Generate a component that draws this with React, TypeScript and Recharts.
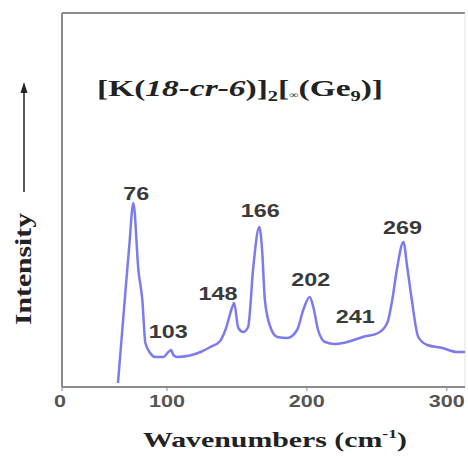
import {
  ComposedChart,
  Line,
  XAxis,
  YAxis,
  ReferenceLine,
} from "recharts";

// Raman spectrum (intensity in arbitrary units)
const WAVENUMBER = [
  65, 70, 73, 76, 79.6, 82.4, 84.6, 88, 91.7, 97.4, 101, 103, 104.6, 107.4,
  124, 131, 138, 142, 146.7, 148, 151, 154.6, 158, 161.7, 166, 168, 170,
  173.9, 178.9, 186, 193, 197.4, 202, 204.6, 208, 213, 220, 226, 240, 251,
  257.4, 261, 264.6, 269, 271.7, 275, 279.6, 286, 297, 307, 313,
];
const INTENSITY = [
  4, 90, 140, 184, 117, 87, 44, 34, 30, 30, 35, 37, 32, 30,
  35, 40, 46, 58, 80, 84, 59, 55, 60, 120, 160, 137, 87,
  60, 50, 49, 57, 77, 90, 80, 57, 45, 43, 44, 50, 54,
  64, 87, 120, 145, 120, 87, 50, 42, 39, 35, 35,
];

const PEAK_WN = [76, 103, 148, 166, 202, 241, 269];
const PEAK_I = [184, 37, 84, 160, 90, 50, 145];

const X_TICKS = [25, 100, 200, 300];
const X_TICK_LABELS = ["0", "100", "200", "300"];

// label nudges (px) so the numbers sit where the original puts them
const LABEL_DX = [3, -3, -16, 1, 1, -9, -1];
const LABEL_DY = [-3, -12, -3, -10, -11, -14, -8];

const spectrum = WAVENUMBER.map((wn, i) => ({ wn, v: INTENSITY[i] }));
const peaks = PEAK_WN.map((wn, i) => ({ wn, v: PEAK_I[i] }));

const W = 468;
const H = 457;
const LINE = "#7b7bf0";
const FRAME = "#8a8a8a";
const SERIF = "'Liberation Serif', 'Times New Roman', serif";
const SANS = "'Liberation Sans', Arial, sans-serif";

// the original picture is stretched sideways, so numbers get a fixed width per digit
function PeakLabel(props: any) {
  const { x, y, index } = props;
  const s = String(PEAK_WN[index]);
  return (
    <text
      x={x + LABEL_DX[index]}
      y={y + LABEL_DY[index]}
      textAnchor="middle"
      fontFamily={SANS}
      fontWeight="bold"
      fontSize={18}
      fill="#3a3a3a"
      textLength={s.length * 13}
      lengthAdjust="spacingAndGlyphs"
    >
      {s}
    </text>
  );
}

function XTick(props: any) {
  const { x, y, payload } = props;
  const s = X_TICK_LABELS[X_TICKS.indexOf(payload.value)] ?? String(payload.value);
  return (
    <text
      x={x - (s === "0" ? 2 : 0)}
      y={y + 14}
      textAnchor="middle"
      fontFamily={SANS}
      fontWeight="bold"
      fontSize={17}
      fill="#555"
      textLength={s.length * 12}
      lengthAdjust="spacingAndGlyphs"
    >
      {s}
    </text>
  );
}

export default function App() {
  return (
    <div style={{ position: "absolute", left: 0, top: 0, width: W, height: H, background: "#fff" }}>
      <ComposedChart
        width={W}
        height={H}
        margin={{ top: 13, right: 3, left: 62, bottom: 40 }}
      >
        <XAxis
          type="number"
          dataKey="wn"
          domain={[25, 313]}
          ticks={X_TICKS}
          allowDataOverflow
          height={30}
          axisLine={{ stroke: FRAME, strokeWidth: 2 }}
          tickLine={{ stroke: FRAME }}
          tickSize={4}
          tick={<XTick />}
        />
        <YAxis hide type="number" domain={[0, 374]} allowDataOverflow />
        <ReferenceLine y={374} stroke={FRAME} strokeWidth={2} />
        <ReferenceLine x={25} stroke={FRAME} strokeWidth={2} />
        <ReferenceLine x={313} stroke="#e4e4e4" strokeWidth={1} />
        <Line
          data={spectrum}
          dataKey="v"
          type="monotone"
          stroke={LINE}
          strokeWidth={2.5}
          dot={false}
          isAnimationActive={false}
        />
        <Line
          data={peaks}
          dataKey="v"
          stroke="none"
          dot={false}
          label={<PeakLabel />}
          isAnimationActive={false}
        />
      </ComposedChart>

      <svg
        width={W}
        height={H}
        style={{ position: "absolute", left: 0, top: 0, pointerEvents: "none" }}
      >
        <text
          x={97}
          y={96}
          fontFamily={SERIF}
          fontWeight="bold"
          fontSize={23}
          fill="#222"
          textLength={286}
          lengthAdjust="spacingAndGlyphs"
        >
          <tspan>[K(</tspan>
          <tspan fontStyle="italic">18-cr-6</tspan>
          <tspan>)]</tspan>
          <tspan fontSize={14} dy={5}>2</tspan>
          <tspan dy={-5}>[</tspan>
          <tspan fontSize={9} dy={2}>∞</tspan>
          <tspan dy={-2}>(Ge</tspan>
          <tspan fontSize={14} dy={5}>9</tspan>
          <tspan dy={-5}>)]</tspan>
        </text>

        <line x1={24} y1={192} x2={24} y2={90} stroke="#222" strokeWidth={1.5} />
        <polygon points="24,82 20.5,93 27.5,93" fill="#222" />
        <text
          x={23}
          y={269}
          transform="rotate(-90 23 269)"
          textAnchor="middle"
          dominantBaseline="central"
          fontFamily={SERIF}
          fontWeight="bold"
          fontSize={24}
          fill="#222"
          textLength={112}
          lengthAdjust="spacingAndGlyphs"
        >
          Intensity
        </text>

        <text
          x={143}
          y={447}
          fontFamily={SERIF}
          fontWeight="bold"
          fontSize={22}
          fill="#222"
          textLength={264}
          lengthAdjust="spacingAndGlyphs"
        >
          <tspan>Wavenumbers (cm</tspan>
          <tspan fontSize={13} dy={-9}>-1</tspan>
          <tspan dy={9}>)</tspan>
        </text>
      </svg>
    </div>
  );
}
